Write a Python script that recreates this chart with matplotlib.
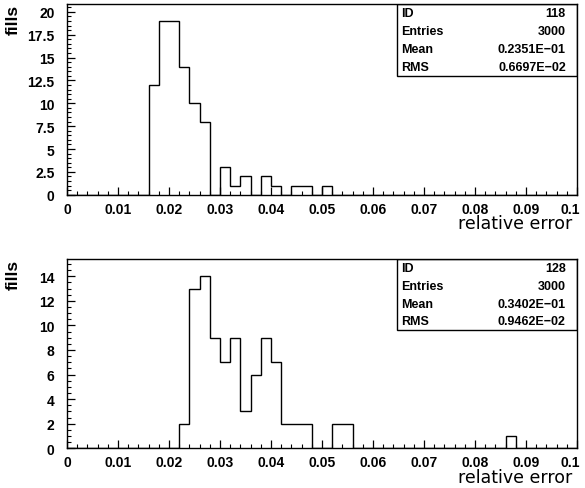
import numpy as np
import matplotlib
matplotlib.use('Agg')
import matplotlib.pyplot as plt
from matplotlib.patches import Rectangle
from matplotlib.ticker import MultipleLocator
from matplotlib.transforms import ScaledTranslation

'''
histogram contents, 50 bins of width 0.002 between 0 and 0.1
'''
bin_edges = np.linspace(0.0, 0.1, 51)

fills_118 = [0, 0, 0, 0, 0, 0, 0, 0, 12, 19,
             19, 14, 10, 8, 0, 3, 1, 2, 0, 2,
             1, 0, 1, 1, 0, 1, 0, 0, 0, 0,
             0, 0, 0, 0, 0, 0, 0, 0, 0, 0,
             0, 0, 0, 0, 0, 0, 0, 0, 0, 0]

fills_128 = [0, 0, 0, 0, 0, 0, 0, 0, 0, 0,
             0, 2, 13, 14, 9, 7, 9, 3, 6, 9,
             7, 2, 2, 2, 0, 0, 2, 2, 0, 0,
             0, 0, 0, 0, 0, 0, 0, 0, 0, 0,
             0, 0, 0, 1, 0, 0, 0, 0, 0, 0]

stats_118 = [('ID', '118'), ('Entries', '3000'), ('Mean', '0.2351E\u221201'), ('RMS', '0.6697E\u221202')]
stats_128 = [('ID', '128'), ('Entries', '3000'), ('Mean', '0.3402E\u221201'), ('RMS', '0.9462E\u221202')]

x_ticks = [0, 0.01, 0.02, 0.03, 0.04, 0.05, 0.06, 0.07, 0.08, 0.09, 0.1]
x_ticklabels = ['0', '0.01', '0.02', '0.03', '0.04', '0.05', '0.06', '0.07', '0.08', '0.09', '0.1']
y_ticks_118 = [0, 2.5, 5, 7.5, 10, 12.5, 15, 17.5, 20]
y_ticks_128 = [0, 2, 4, 6, 8, 10, 12, 14]

tick_font = dict(family='Liberation Sans', weight='bold', size=10)


def draw_panel(fig, ax, fills, stats, yticks, ytop):
    ax.stairs(fills, bin_edges, color='black', linewidth=1.0)
    ax.set_xlim(0, 0.1)
    ax.set_ylim(0, ytop)
    ax.set_xticks(x_ticks)
    ax.set_xticklabels(x_ticklabels, fontdict=tick_font)
    ax.set_yticks(yticks)
    ax.set_yticklabels([('%g' % v) for v in yticks], fontdict=tick_font)
    ax.xaxis.set_minor_locator(MultipleLocator(0.002))
    ax.yaxis.set_minor_locator(MultipleLocator(0.5))
    ax.tick_params(which='both', direction='in', top=False, right=False, color='black')
    ax.tick_params(which='major', length=6, width=0.9)
    ax.tick_params(which='minor', length=3, width=0.8)
    ax.tick_params(axis='x', which='major', pad=5)
    ax.tick_params(axis='y', which='major', pad=9)
    for s in ax.spines.values():
        s.set_linewidth(1.0)
        s.set_color('black')
    # last label sits against the figure edge, nudge it left a bit
    last = ax.get_xticklabels()[-1]
    last.set_transform(last.get_transform() + ScaledTranslation(-5 / 72, 0, fig.dpi_scale_trans))

    # statistics box in the upper right corner
    bx0, by0 = 0.648, 0.623
    ax.add_patch(Rectangle((bx0, by0), 1 - bx0, 1 - by0, transform=ax.transAxes,
                           fill=False, edgecolor='black', linewidth=1.0, zorder=5))
    row_h = (1 - by0) / 4
    for i, (name, val) in enumerate(stats):
        yc = 1 - row_h * (i + 0.5)
        ax.text(bx0 + 0.008, yc, name, transform=ax.transAxes, ha='left', va='center',
                family='Liberation Sans', weight='bold', size=9)
        ax.text(0.978, yc, val, transform=ax.transAxes, ha='right', va='center',
                family='Liberation Sans', weight='bold', size=9)

    ax.text(0.99, -0.15, 'relative error', transform=ax.transAxes, ha='right', va='center',
            family='DejaVu Sans', size=12.5)
    ax.text(-0.105, 1.0, 'fills', transform=ax.transAxes, ha='center', va='top',
            rotation=90, family='Liberation Sans', weight='bold', size=12.5)


fig = plt.figure(figsize=(5.85, 4.89), dpi=100)
ax1 = fig.add_axes([0.1145, 0.5998, 0.8718, 0.3906])
ax2 = fig.add_axes([0.1145, 0.0812, 0.8718, 0.3871])

draw_panel(fig, ax1, fills_118, stats_118, y_ticks_118, 20.9)
draw_panel(fig, ax2, fills_128, stats_128, y_ticks_128, 15.4)

fig.savefig('out.png', dpi=100)
